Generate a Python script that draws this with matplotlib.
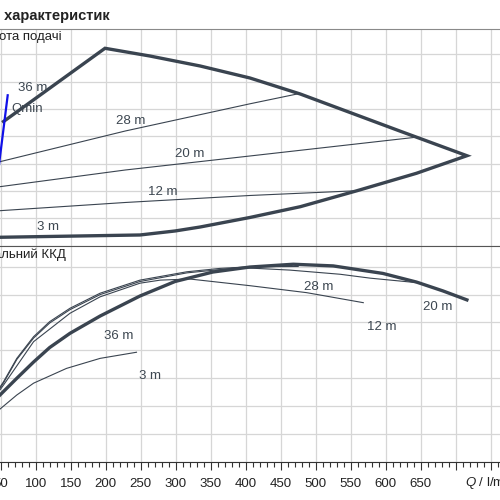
import matplotlib
matplotlib.use("Agg")
import matplotlib.pyplot as plt

plt.rcParams['font.family'] = ['Liberation Sans', 'DejaVu Sans']
plt.rcParams['mathtext.fontset'] = 'custom'
plt.rcParams['mathtext.it'] = 'Liberation Sans:italic'
plt.rcParams['mathtext.rm'] = 'Liberation Sans'

# --- top panel: head (m) vs Q (l/min)
env_q = [54, 199, 263, 335, 406, 478, 549, 620, 716, 644, 559, 478, 406, 335, 299, 249, 49, 35]
env_h = [22.7, 36.09, 34.68, 32.85, 30.66, 27.73, 24.35, 20.97, 16.45, 13.24, 10.05, 7.13, 5.16, 3.42, 2.69, 1.96, 1.54, 1.5]

h28_q = [49, 228, 406, 476]
h28_h = [15.36, 20.97, 25.94, 27.8]
h20_q = [49, 228, 406, 644]
h20_h = [10.79, 13.84, 16.4, 19.84]
h12_q = [49, 228, 406, 559]
h12_h = [6.4, 7.9, 9.18, 10.05]

qmin_q = [47, 60]
qmin_h = [14.2, 27.5]

top_labels = ['36 m', '28 m', '20 m', '12 m', '3 m']
top_lab_q = [95, 236, 320, 281, 118]
top_lab_h = [28.8, 22.85, 16.76, 9.87, 3.36]

# --- bottom panel: efficiency (%) vs Q
eff_q = [49, 73, 97, 120, 149, 192, 249, 299, 353, 406, 468, 525, 596, 644, 682, 716]
eff_e = [23.95, 29.95, 35.8, 41.0, 46.1, 52.3, 59.5, 64.7, 68.1, 69.9, 70.9, 70.3, 67.6, 64.5, 61.3, 58.1]

e28_q = [49, 54, 73, 97, 120, 149, 192, 249, 316, 363, 406, 475]
e28_e = [26.8, 28.7, 37.1, 44.9, 50.3, 55.1, 60.5, 65.2, 68.2, 69.4, 70.0, 70.1]
e20_q = [49, 54, 73, 97, 120, 149, 192, 249, 316, 392, 463, 535, 578, 644]
e20_e = [26.4, 28.3, 36.7, 44.4, 49.8, 54.6, 60.0, 64.7, 67.8, 69.7, 68.8, 67.3, 65.9, 64.3]
e12_q = [49, 54, 97, 149, 192, 249, 278, 320, 406, 487, 568]
e12_e = [25.8, 27.5, 43.1, 53.3, 59.2, 64.1, 65.2, 65.6, 63.2, 60.7, 57.1]
e3_q = [49, 73, 97, 144, 192, 244]
e3_e = [18.9, 23.95, 28.2, 33.5, 37.1, 39.3]

bot_labels = ['36 m', '3 m', '28 m', '12 m', '20 m']
bot_lab_q = [218, 263, 504, 594, 674]
bot_lab_e = [45.2, 30.8, 62.6, 48.5, 55.7]

ticks = list(range(50, 800, 50))
tick_labels = [str(t) if t <= 650 else '' for t in ticks]

dark = '#3a4450'
txt = '#3c4650'
grid = '#d6d6d6'

fig = plt.figure(figsize=(5, 5), dpi=100)
ax1 = fig.add_axes([-0.0686, 0.5086, 1.12, 0.4328])
ax2 = fig.add_axes([-0.0686, 0.0766, 1.12, 0.4314])

for ax in (ax1, ax2):
    ax.set_xlim(0, 800)
    ax.set_xticks(ticks)
    ax.grid(True, color=grid, lw=0.9)
    ax.set_axisbelow(True)
    for s in ('left', 'right'):
        ax.spines[s].set_visible(False)
    ax.tick_params(axis='y', left=False, labelleft=False)

ax1.set_ylim(0, 39.56)
ax1.set_yticks(range(0, 40, 5))
ax1.tick_params(axis='x', bottom=False, labelbottom=False)
ax1.spines['top'].set_color('#8a8a8a')
ax1.spines['bottom'].set_visible(False)

ax1.plot(env_q, env_h, color=dark, lw=2.4, solid_joinstyle='miter')
ax1.plot(h28_q, h28_h, color=dark, lw=0.8)
ax1.plot(h20_q, h20_h, color=dark, lw=0.8)
ax1.plot(h12_q, h12_h, color=dark, lw=0.8)
ax1.plot(qmin_q, qmin_h, color='#1010e8', lw=1.6)
for lab, q, h in zip(top_labels, top_lab_q, top_lab_h):
    ax1.text(q, h, lab, fontsize=9.5, color=txt, ha='center', va='center')
ax1.text(64.7, 25.0, 'Qmin', fontsize=9.5, color=txt, ha='left', va='center')
ax1.text(137.6, 38.2, 'Висота подачі', fontsize=9.5, color='#222222', ha='right', va='center')

ax2.set_ylim(0, 77.45)
ax2.set_yticks(range(0, 80, 10))
ax2.spines['top'].set_color('#555555')
ax2.spines['bottom'].set_color('#333333')
ax2.set_xticks(range(0, 800, 10), minor=True)
ax2.set_xticklabels(tick_labels)
ax2.tick_params(axis='x', which='major', direction='out', length=5.5, width=0.8,
                color='#333333', labelsize=9.5, labelcolor='#222222', pad=6.5)
ax2.tick_params(axis='x', which='minor', direction='out', length=3.8, width=0.8, color='#333333')

ax2.plot(e3_q, e3_e, color=dark, lw=0.8)
ax2.plot(e12_q, e12_e, color=dark, lw=0.8)
ax2.plot(e20_q, e20_e, color=dark, lw=0.8)
ax2.plot(e28_q, e28_e, color=dark, lw=0.8)
ax2.plot(eff_q, eff_e, color=dark, lw=2.4)
for lab, q, e in zip(bot_labels, bot_lab_q, bot_lab_e):
    ax2.text(q, e, lab, fontsize=9.5, color=txt, ha='center', va='center')
ax2.text(143.3, 74.2, 'Загальний ККД', fontsize=9.5, color='#222222', ha='right', va='center')
ax2.text(713, -7.8, r'$Q$ / l/min', fontsize=9.5, color='#222222', ha='left', va='center')

fig.text(0.22, 0.968, 'Криві характеристик', fontsize=10.5, fontweight='bold',
         color='#222222', ha='right', va='center')

fig.savefig('out.png', dpi=100)
